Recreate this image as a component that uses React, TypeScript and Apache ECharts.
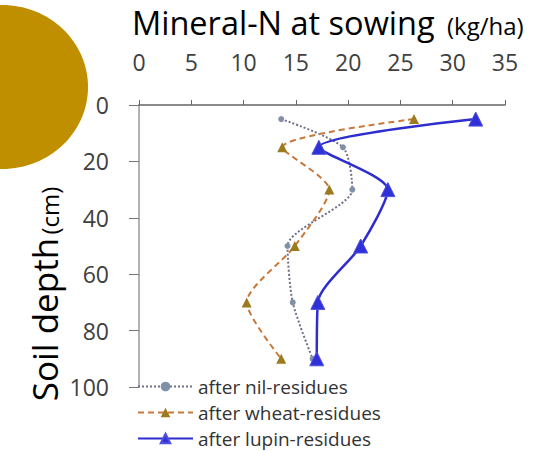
import React, { useEffect, useRef } from "react";
import * as echarts from "echarts";

const depths = [5, 15, 30, 50, 70, 90];
const nilValues = [13.6, 19.5, 20.4, 14.2, 14.7, 16.6];
const wheatValues = [26.3, 13.7, 18.2, 14.9, 10.3, 13.6];
const lupinValues = [32.2, 17.2, 23.8, 21.2, 17.1, 17.0];
const seriesNames = ["after nil-residues", "after wheat-residues", "after lupin-residues"];

const FONT = "Open Sans";

function pairs(vals: number[]) {
  return vals.map((v, i) => [v, depths[i]]);
}

export default function App() {
  const ref = useRef<HTMLDivElement>(null);
  useEffect(() => {
    if (!ref.current) return;
    const chart = echarts.init(ref.current, undefined, { renderer: "svg" });
    chart.setOption({
      animation: false,
      backgroundColor: "#ffffff",
      textStyle: { fontFamily: FONT },
      grid: { left: 139, top: 105, right: 40, bottom: 64, containLabel: false },
      graphic: [
        {
          type: "ellipse",
          shape: { cx: 2, cy: 87, rx: 86, ry: 82 },
          style: { fill: "#BF8F00" },
          z: 0,
        },
        {
          type: "text",
          x: 132,
          y: 22,
          style: {
            text: "Mineral-N at sowing",
            fontSize: 32.5,
            fontFamily: FONT,
            fill: "#000",
            verticalAlign: "middle",
          },
        },
        {
          type: "text",
          x: 447,
          y: 25.5,
          style: {
            text: "(kg/ha)",
            fontSize: 24,
            fontFamily: FONT,
            fill: "#000",
            verticalAlign: "middle",
          },
        },
        {
          type: "text",
          x: 44,
          y: 294,
          rotation: Math.PI / 2,
          style: {
            text: "{a|Soil depth} {b|(cm)}",
            align: "center",
            verticalAlign: "middle",
            rich: {
              a: { fontSize: 35, fontFamily: FONT, fill: "#000", verticalAlign: "bottom" },
              b: { fontSize: 24, fontFamily: FONT, fill: "#000", verticalAlign: "bottom" },
            },
          },
        },
      ],
      legend: {
        orient: "vertical",
        left: 137,
        top: 377,
        padding: 0,
        itemGap: 7,
        itemWidth: 55,
        itemHeight: 12,
        textStyle: { fontSize: 19, color: "#333", fontFamily: FONT },
        data: seriesNames,
      },
      xAxis: {
        type: "value",
        position: "top",
        min: 0,
        max: 35,
        interval: 5,
        axisLine: { show: true, lineStyle: { color: "#666", width: 1.5 } },
        axisTick: { show: true, length: 5, lineStyle: { color: "#666" } },
        axisLabel: { fontSize: 23, color: "#404040", margin: 32, fontFamily: FONT },
        splitLine: { show: false },
      },
      yAxis: {
        type: "value",
        inverse: true,
        min: 0,
        max: 100,
        interval: 20,
        axisLine: { show: true, lineStyle: { color: "#999", width: 1.5 } },
        axisTick: { show: true, length: 10, lineStyle: { color: "#777" } },
        axisLabel: { fontSize: 23, color: "#404040", margin: 30, fontFamily: FONT },
        splitLine: { show: false },
      },
      series: [
        {
          name: seriesNames[0],
          type: "line",
          smooth: 0.25,
          data: pairs(nilValues),
          symbol: "circle",
          symbolSize: 6,
          lineStyle: { color: "#70708a", width: 2, type: "dotted" },
          itemStyle: { color: "#8090a8" },
          z: 2,
        },
        {
          name: seriesNames[1],
          type: "line",
          smooth: 0.25,
          data: pairs(wheatValues),
          symbol: "triangle",
          symbolSize: 10,
          lineStyle: { color: "#c8783a", width: 2, type: [6, 4] },
          itemStyle: { color: "#9c7a1e" },
          z: 3,
        },
        {
          name: seriesNames[2],
          type: "line",
          smooth: 0.25,
          data: pairs(lupinValues),
          symbol: "triangle",
          symbolSize: 14,
          lineStyle: { color: "#2d2dd0", width: 2.5 },
          itemStyle: { color: "#3030d8", borderColor: "#5050e0", borderWidth: 1 },
          z: 4,
        },
      ],
    });
    return () => chart.dispose();
  }, []);
  return <div ref={ref} style={{ width: 545, height: 451, position: "absolute", left: 0, top: 0 }} />;
}
